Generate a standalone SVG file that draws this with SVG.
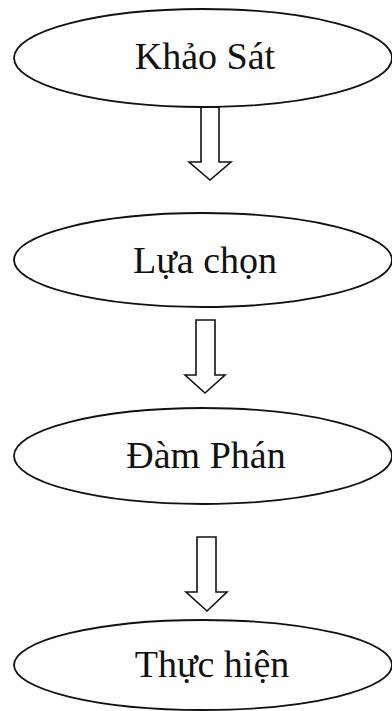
<svg xmlns="http://www.w3.org/2000/svg" width="392" height="711" viewBox="0 0 392 711">
  <style>
    .node ellipse { fill: #ffffff; stroke: #111111; stroke-width: 1.8; }
    .node text { font-family: "Liberation Serif", "Times New Roman", serif; font-size: 38px; fill: #111111; text-anchor: middle; }
    .arrow { fill: #ffffff; stroke: #111111; stroke-width: 1.6; stroke-linejoin: miter; }
  </style>
  <rect width="392" height="711" fill="#ffffff"/>

  <g id="connectors">
    <!-- block arrows: shaft plus triangular head -->
    <path class="arrow" d="M201,107 L219,107 L219,162 L231,162 L210,180 L189,162 L201,162 Z"/>
    <path class="arrow" d="M196,320 L215,320 L215,375 L225,375 L205,393 L185,375 L196,375 Z"/>
    <path class="arrow" d="M197,537 L216,537 L216,592 L227,592 L207,611 L186,592 L197,592 Z"/>
  </g>

  <g id="khao-sat" class="node">
    <ellipse cx="203" cy="58" rx="189" ry="49"/>
    <text x="205" y="69">Khảo Sát</text>
  </g>

  <g id="lua-chon" class="node">
    <ellipse cx="203" cy="260" rx="189" ry="47"/>
    <text x="205" y="273">Lựa chọn</text>
  </g>

  <g id="dam-phan" class="node">
    <ellipse cx="203" cy="456" rx="189" ry="48"/>
    <text x="206" y="468">Đàm Phán</text>
  </g>

  <g id="thuc-hien" class="node">
    <ellipse cx="203" cy="665" rx="189" ry="45"/>
    <text x="212" y="677">Thực hiện</text>
  </g>
</svg>
